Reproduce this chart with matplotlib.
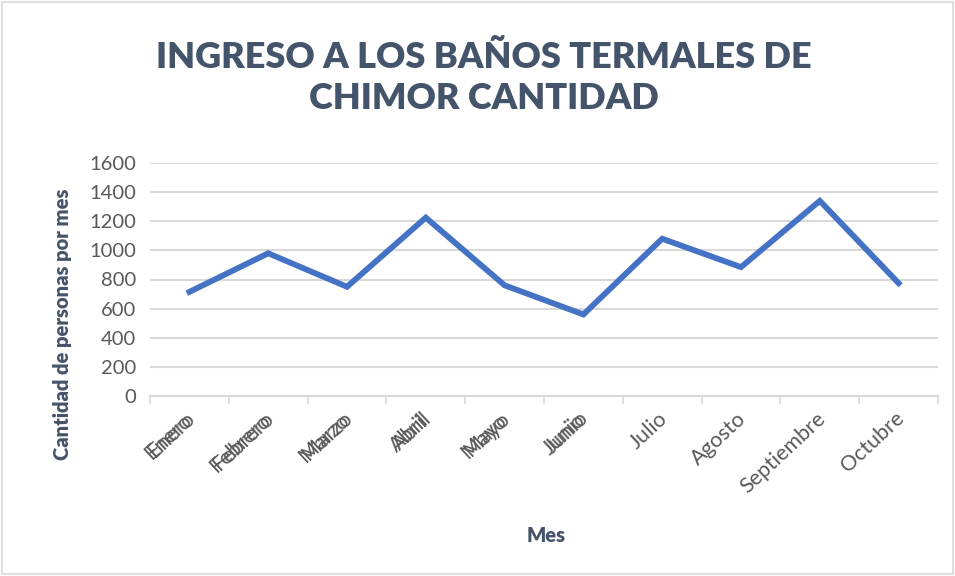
import numpy as np
import matplotlib.pyplot as plt
from matplotlib.patches import Rectangle
import matplotlib.transforms as mtransforms

plt.rcParams['font.family'] = ['Lato', 'DejaVu Sans']

# data
meses = ['Enero', 'Febrero', 'Marzo', 'Abril', 'Mayo', 'Junio',
         'Julio', 'Agosto', 'Septiembre', 'Octubre']
cantidad = [715, 980, 750, 1225, 760, 560, 1080, 885, 1340, 775]
y_ticks = [0, 200, 400, 600, 800, 1000, 1200, 1400, 1600]

text_col = '#44546A'
tick_col = '#595959'
grid_col = '#D9D9D9'

fig = plt.figure(figsize=(9.55, 5.76), dpi=100)
ax = fig.add_axes([150/955, 1 - 396/576, (938-150)/955, (396-163)/576])

x = np.arange(len(meses))
ax.plot(x, cantidad, color='#4472C4', linewidth=4.2, solid_joinstyle='miter')

ax.set_xlim(-0.5, len(meses) - 0.5)
ax.set_ylim(0, 1600)
ax.set_yticks(y_ticks)
ax.set_yticklabels([str(v) for v in y_ticks], fontsize=14.5, color=tick_col)
ax.yaxis.grid(True, color=grid_col, linewidth=1.5)
ax.set_axisbelow(True)
ax.tick_params(axis='y', length=0, pad=10)

# ticks between categories, labels at the centres
ax.set_xticks(np.arange(len(meses) + 1) - 0.5)
ax.set_xticklabels([])
ax.tick_params(axis='x', length=6, color=grid_col, width=1.2)
for i, m in enumerate(meses):
    ax.text(i + 0.03, -135, m, rotation=43, ha='right', va='center',
            rotation_mode='anchor', fontsize=15.5, color=tick_col)
    if i < 6:
        # the original shows a second, slightly shifted copy of these labels
        off = mtransforms.offset_copy(ax.transData, fig=fig, x=-3, y=-2, units='dots')
        ax.text(i + 0.03, -135, m, rotation=43, ha='right', va='center',
                rotation_mode='anchor', fontsize=15.5, color=tick_col, transform=off)

for s in ['top', 'right', 'left']:
    ax.spines[s].set_visible(False)
ax.spines['bottom'].set_color(grid_col)
ax.spines['bottom'].set_linewidth(1.5)

fig.text(484/955, 1 - 78/576, 'INGRESO A LOS BAÑOS TERMALES DE\nCHIMOR CANTIDAD',
         ha='center', va='center', fontsize=26, fontweight='heavy', color=text_col,
         linespacing=1.3)
fig.text(62/955, 1 - 324/576, 'Cantidad de personas por mes', rotation=90,
         ha='center', va='center', fontsize=14.5, fontweight='heavy', color=text_col)
fig.text(546/955, 1 - 535/576, 'Mes', ha='center', va='center',
         fontsize=14.5, fontweight='heavy', color=text_col)

fig.patches.append(Rectangle((0.002, 0.004), 0.996, 0.992, transform=fig.transFigure,
                             fill=False, edgecolor=grid_col, linewidth=1.2))

fig.savefig('out.png', dpi=100)
